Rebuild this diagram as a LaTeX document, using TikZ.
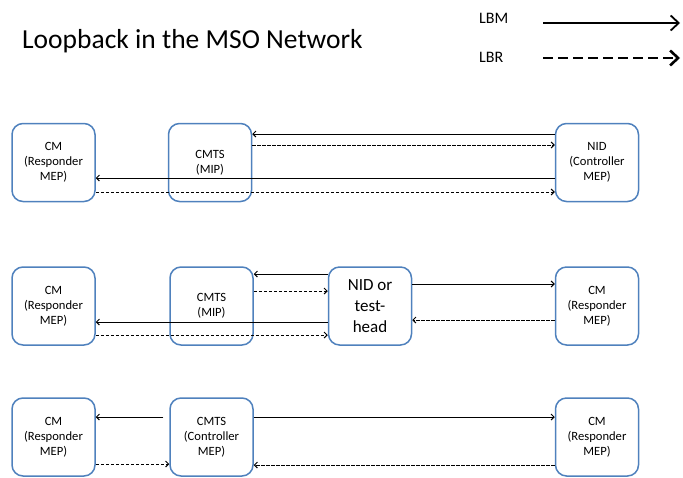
\documentclass[tikz,border=0pt]{standalone}
\usepackage{fontspec}
\setmainfont{Carlito}
\usetikzlibrary{arrows.meta}
\definecolor{boxblue}{RGB}{79,129,189}

\begin{document}
\begin{tikzpicture}[x=1pt,y=-1pt,
    box/.style={draw=boxblue, line width=1.5pt, rounded corners=11pt, minimum width=83pt,
      minimum height=78pt, align=center, inner sep=1pt, font=\fontsize{12.6}{15}\selectfont},
    lbm/.style={-{Straight Barb[length=3pt,width=6pt]}, line width=1pt},
    lbr/.style={lbm, dash pattern=on 3.5pt off 1.5pt}]
    \useasboundingbox (0,0) rectangle (683,477);
    % Titel und Legende
    \node[anchor=base west, inner sep=0pt, font=\fontsize{27.5}{30}\selectfont] (title) at (22,48) {Loopback in the MSO Network};
    \node[anchor=base west, inner sep=0pt, font=\fontsize{16}{18}\selectfont] (lbmtext) at (479,23) {LBM};
    \node[anchor=base west, inner sep=0pt, font=\fontsize{16}{18}\selectfont] (lbrtext) at (479,62) {LBR};
    \coordinate (lbma) at (543,23);
    \coordinate (lbmb) at (680,23);
    \coordinate (lbra) at (543,58);
    \coordinate (lbrb) at (680,58);
    \draw[-{Straight Barb[length=8pt,width=15pt]}, line width=1.8pt] (lbma) -- (lbmb);
    \draw[-{Straight Barb[length=8pt,width=15pt]}, line width=2.6pt, dash pattern=on 10pt off 5pt] (lbra) -- (lbrb);
    % Zeile 1
    \node[box] (cm1) at (53.5,162.5) {CM\\(Responder\\MEP)};
    \node[box] (cmts1) at (210,162.5) {CMTS\\(MIP)};
    \node[box] (nid1) at (597,162.5) {NID\\(Controller\\MEP)};
    \draw[lbm] ([yshift=28.5pt]nid1.west) -- ([yshift=28.5pt]cmts1.east);
    \draw[lbr] ([yshift=17.5pt]cmts1.east) -- ([yshift=17.5pt]nid1.west);
    \draw[lbm] ([yshift=-15.5pt]nid1.west) -- ([yshift=-15.5pt]cm1.east);
    \draw[lbr] ([yshift=-29.5pt]cm1.east) -- ([yshift=-29.5pt]nid1.west);
    % Zeile 2
    \node[box] (cm2) at (53.5,306) {CM\\(Responder\\MEP)};
    \node[box] (cmts2) at (211.5,306) {CMTS\\(MIP)};
    \node[box, font=\fontsize{17}{21}\selectfont] (nid2) at (370,306) {NID or\\test-\\head};
    \node[box] (cm3) at (597,306) {CM\\(Responder\\MEP)};
    \draw[lbm] ([yshift=32pt]nid2.west) -- ([yshift=32pt]cmts2.east);
    \draw[lbr] ([yshift=15pt]cmts2.east) -- ([yshift=15pt]nid2.west);
    \draw[lbm] ([yshift=-16pt]nid2.west) -- ([yshift=-16pt]cm2.east);
    \draw[lbr] ([yshift=-29pt]cm2.east) -- ([yshift=-29pt]nid2.west);
    \draw[lbm] ([yshift=22pt]nid2.east) -- ([yshift=22pt]cm3.west);
    \draw[lbr] ([yshift=-14pt]cm3.west) -- ([yshift=-14pt]nid2.east);
    % Zeile 3
    \node[box] (cm4) at (53.5,437) {CM\\(Responder\\MEP)};
    \node[box] (cmts3) at (211.5,437) {CMTS\\(Controller\\MEP)};
    \node[box] (cm5) at (597,437) {CM\\(Responder\\MEP)};
    \draw[lbm] ([xshift=-6pt,yshift=20pt]cmts3.west) -- ([yshift=20pt]cm4.east);
    \draw[lbm] ([yshift=20pt]cmts3.east) -- ([yshift=20pt]cm5.west);
    \draw[lbr] ([yshift=-27pt]cm4.east) -- ([yshift=-27pt]cmts3.west);
    \draw[lbr] ([yshift=-28pt]cm5.west) -- ([yshift=-28pt]cmts3.east);
\end{tikzpicture}
\end{document}
